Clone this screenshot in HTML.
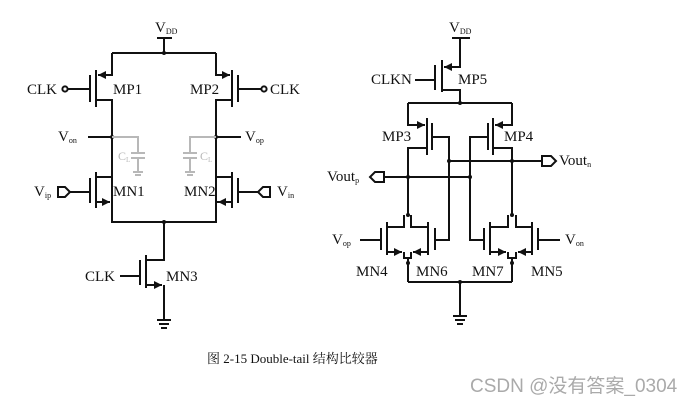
<!DOCTYPE html>
<html><head><meta charset="utf-8"><style>
html,body{margin:0;padding:0;background:#fff;width:694px;height:403px;overflow:hidden}
svg{display:block}
text{font-family:"Liberation Serif","Noto Serif CJK SC",serif;fill:#111}
</style></head><body>
<svg width="694" height="403" viewBox="0 0 694 403" xmlns="http://www.w3.org/2000/svg">
<defs>
<marker id="a" viewBox="0 0 10 10" refX="10" refY="5" markerWidth="4" markerHeight="4" orient="auto"><path d="M0 0L10 5L0 10z" fill="#111"/></marker>
</defs>
<g stroke="#111" stroke-width="2" fill="none">
<path d="M157 38H172M164 38V53M112 53H216"/>
<path d="M112 53V75H98" marker-end="url(#a)"/>
<path d="M96 70V107M90 75V102M68 89H90M96 100H112V222"/>
<circle cx="65" cy="89" r="2.6" fill="#fff"/>
<path d="M216 53V75H230" marker-end="url(#a)"/>
<path d="M232 70V107M238 75V102M238 89H261M232 100H216V222"/>
<circle cx="264" cy="89" r="2.6" fill="#fff"/>
<path d="M88 137H112M216 137H241"/>
<path d="M112 177H96M96 172V208M90 178V203M70 192H90"/>
<path d="M96 202H110" marker-end="url(#a)"/>
<path d="M112 202V222H216V202"/>
<path d="M216 177H232M232 172V208M238 178V203M238 192H258"/>
<path d="M232 202H218" marker-end="url(#a)"/>
<path d="M216 202H220"/>
<path d="M58 187H65L70 192L65 197H58Z" fill="#fff"/>
<path d="M270 187H263L258 192L263 197H270Z" fill="#fff"/>
<path d="M164 222V260H146M146 255V288M140 260V285M120 276H140"/>
<path d="M146 285H162" marker-end="url(#a)"/>
<path d="M164 285V320M157 320H171M159 324H169M161 328H167"/>
</g>
<g fill="#111"><circle cx="164" cy="53" r="2"/><circle cx="112" cy="137" r="2"/><circle cx="216" cy="137" r="2"/><circle cx="164" cy="222" r="2"/></g>
<g stroke="#b8b8b8" stroke-width="2" fill="none">
<path d="M112 137H138V153M131 153H145M131 158H145M138 158V172M133 172H143M135 175H141"/>
<path d="M216 137H190V153M183 153H197M183 158H197M190 158V172M185 172H195M187 175H193"/>
</g>
<text x="118" y="160" font-size="12" style="fill:#b8b8b8">C<tspan font-size="7" dy="2">L</tspan></text>
<text x="200" y="160" font-size="12" style="fill:#b8b8b8">C<tspan font-size="7" dy="2">L</tspan></text>
<g font-size="15">
<text x="155" y="32">V<tspan font-size="8" dy="2">DD</tspan></text>
<text x="27" y="94">CLK</text>
<text x="113" y="94">MP1</text>
<text x="190" y="94">MP2</text>
<text x="270" y="94">CLK</text>
<text x="58" y="141">V<tspan font-size="8" dy="2">on</tspan></text>
<text x="245" y="141">V<tspan font-size="8" dy="2">op</tspan></text>
<text x="34" y="196">V<tspan font-size="8" dy="2">ip</tspan></text>
<text x="113" y="196">MN1</text>
<text x="184" y="196">MN2</text>
<text x="277" y="196">V<tspan font-size="8" dy="2">in</tspan></text>
<text x="85" y="281">CLK</text>
<text x="166" y="281">MN3</text>
</g>
<g stroke="#111" stroke-width="2" fill="none">
<path d="M452 38H470"/>
<path d="M460 38V67H444" marker-end="url(#a)"/>
<path d="M442 60V92M435 65V90M415 80H435M442 90H460V103M408 103H512"/>
<path d="M408 103V125H425" marker-end="url(#a)"/>
<path d="M427 118V155M432 123V150M432 137H449V240H435M427 148H408V215"/>
<path d="M512 103V125H495" marker-end="url(#a)"/>
<path d="M493 118V155M488 123V150M488 137H470V240H484M493 148H512V215"/>
<path d="M449 161H542M384 177H470"/>
<path d="M542 156H551L556 161L551 166H542Z" fill="#fff"/>
<path d="M384 172H375L370 177L375 182H384Z" fill="#fff"/>
<path d="M404 215V227H387M411 215V227H428M387 222V255M428 222V255M381 228V250M360 240H381M435 228V250"/>
<path d="M387 252H402" marker-end="url(#a)"/>
<path d="M428 252H413" marker-end="url(#a)"/>
<path d="M404 252V258H411V252M408 258V282"/>
<path d="M508 215V227H490M516 215V227H532M490 222V255M532 222V255M484 228V250M538 228V250M538 240H560"/>
<path d="M490 252H506" marker-end="url(#a)"/>
<path d="M532 252H518" marker-end="url(#a)"/>
<path d="M508 252V258H516V252M512 258V282"/>
<path d="M408 282H512M460 282V316M453 316H467M455 320H465M457 324H463"/>
</g>
<g fill="#111">
<circle cx="460" cy="103" r="2"/><circle cx="449" cy="161" r="2"/><circle cx="512" cy="161" r="2"/>
<circle cx="408" cy="177" r="2"/><circle cx="470" cy="177" r="2"/>
<circle cx="408" cy="215" r="2"/><circle cx="512" cy="215" r="2"/>
<circle cx="408" cy="263" r="2"/><circle cx="512" cy="263" r="2"/><circle cx="460" cy="282" r="2"/>
</g>
<g font-size="15">
<text x="449" y="32">V<tspan font-size="8" dy="2">DD</tspan></text>
<text x="371" y="84">CLKN</text>
<text x="458" y="84">MP5</text>
<text x="382" y="141">MP3</text>
<text x="504" y="141">MP4</text>
<text x="559" y="165">Vout<tspan font-size="8" dy="2">n</tspan></text>
<text x="327" y="181">Vout<tspan font-size="8" dy="2">p</tspan></text>
<text x="332" y="244">V<tspan font-size="8" dy="2">op</tspan></text>
<text x="565" y="244">V<tspan font-size="8" dy="2">on</tspan></text>
<text x="356" y="276">MN4</text>
<text x="416" y="276">MN6</text>
<text x="472" y="276">MN7</text>
<text x="531" y="276">MN5</text>
</g>
<text x="207" y="363" font-size="13">图 2-15 Double-tail 结构比较器</text>
<text x="470" y="392" font-size="19" style="fill:#aaa;font-family:'Liberation Sans','Noto Sans CJK SC',sans-serif">CSDN @没有答案_0304</text>
</svg>
</body></html>
